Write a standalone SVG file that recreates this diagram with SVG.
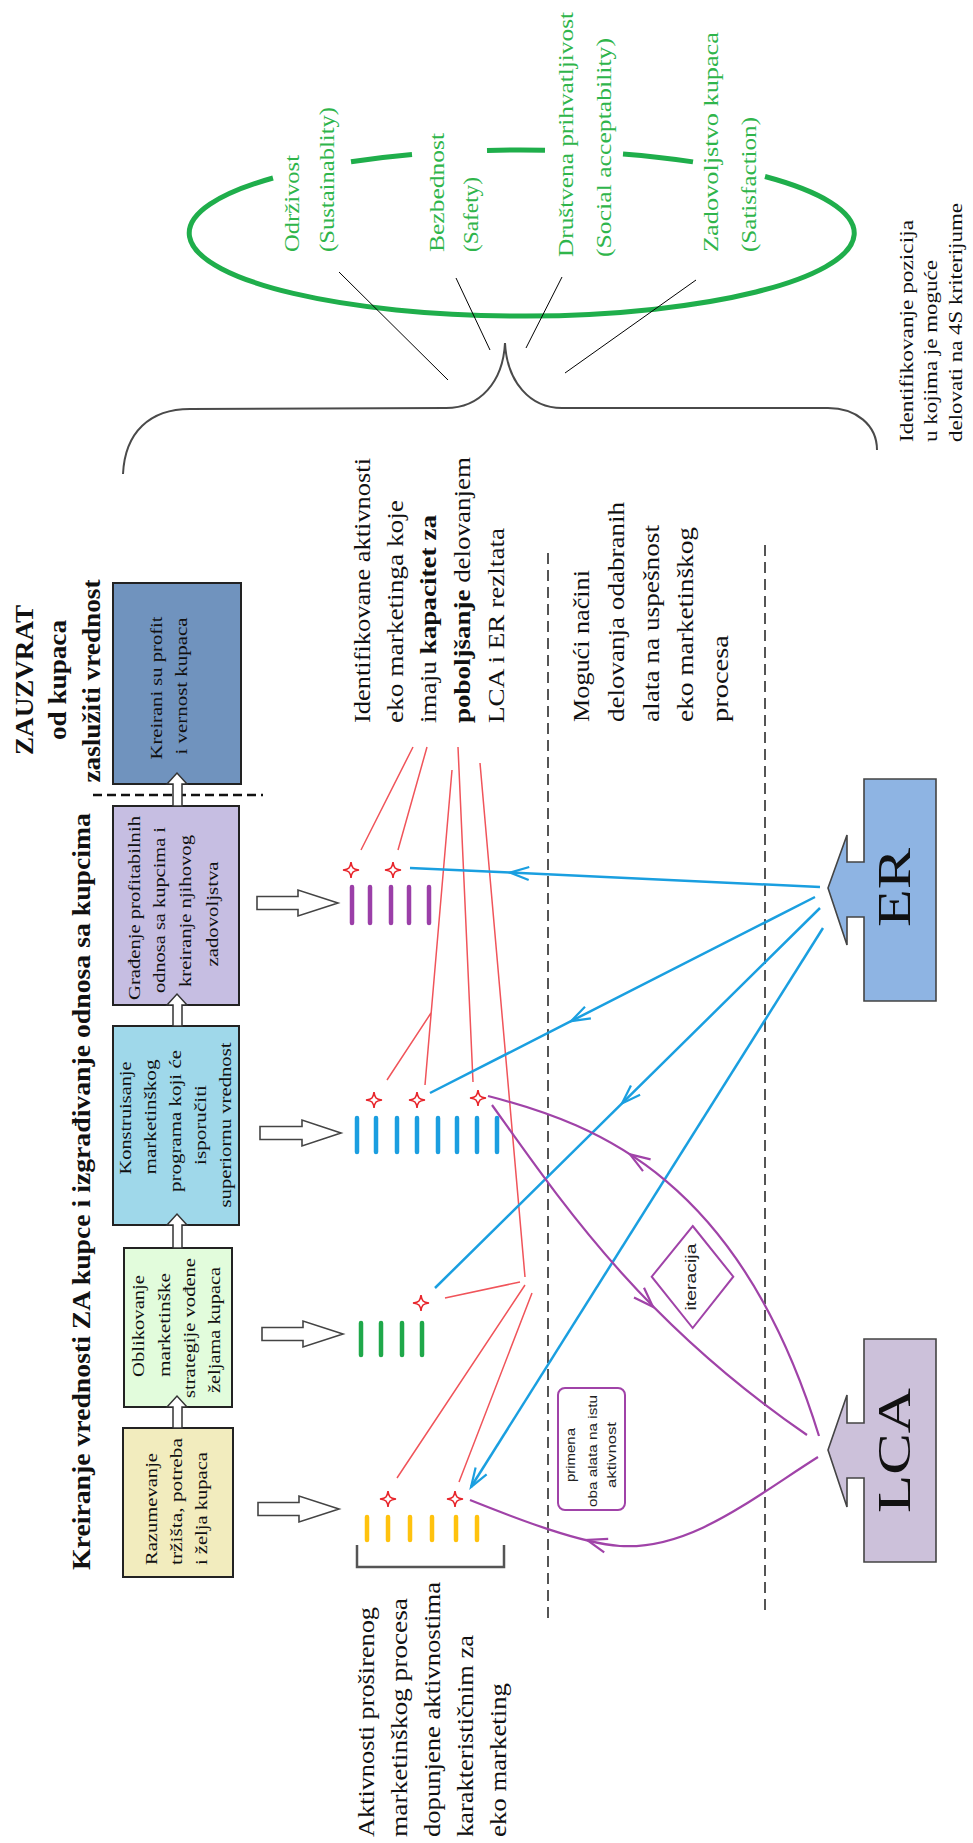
<svg xmlns="http://www.w3.org/2000/svg" width="973" height="1843" viewBox="0 0 973 1843">
<defs>
<style>
.s{font-family:"Liberation Serif","Times New Roman",serif;fill:#111}
.bx{font-size:16px}
.b{font-weight:bold}
.gt{font-size:22px;fill:#2fb54b}
.lb{font-size:24px}
.ss{font-family:"Liberation Sans",Arial,sans-serif;fill:#222}
.box{stroke:#222;stroke-width:2}
.red{stroke:#f0545a;stroke-width:1.5;fill:none}
.blu{stroke:#1a9fe0;stroke-width:2.5;fill:none}
.pur{stroke:#a043a8;stroke-width:2.2;fill:none}
.dash{stroke:#555;stroke-width:2;stroke-dasharray:11 6;fill:none}
.bar{stroke-width:4.5;stroke-linecap:round}
.conn{fill:#fff;stroke:#333;stroke-width:1.5}
.blk{fill:#fff;stroke:#444;stroke-width:1.6}
.ell{stroke:#1fae4b;stroke-width:5;fill:none}
.thin{stroke:#000;stroke-width:1;fill:none}
</style>
<path id="star" d="M0,-8 C0.8,-2 2,-0.8 8,0 C2,0.8 0.8,2 0,8 C-0.8,2 -2,0.8 -8,0 C-2,-0.8 -0.8,-2 0,-8Z" fill="#fff" stroke="#e8262c" stroke-width="1.6"/>
<marker id="ab" markerUnits="userSpaceOnUse" markerWidth="24" markerHeight="16" refX="20" refY="8" orient="auto" viewBox="0 0 24 16"><path d="M1,1.5 L20,8 L1,14.5" fill="none" stroke="#1a9fe0" stroke-width="2.2"/></marker>
</defs>
<rect width="973" height="1843" fill="#fff"/>

<!-- 4S ellipse -->
<g id="criteria">
<path class="ell" d="M273,178 A332.5,83 0 1 0 765,176.5"/>
<path class="ell" d="M351,161.8 A332.5,83 0 0 1 412,154.6 M487,150.4 A332.5,83 0 0 1 545,150.2 M623,154 A332.5,83 0 0 1 693,161.9"/>
<text class="s gt" transform="translate(299 252) rotate(-90)" textLength="97" lengthAdjust="spacingAndGlyphs">Održivost</text>
<text class="s gt" transform="translate(334 252) rotate(-90)" textLength="145" lengthAdjust="spacingAndGlyphs">(Sustainablity)</text>
<text class="s gt" transform="translate(444 252) rotate(-90)" textLength="119" lengthAdjust="spacingAndGlyphs">Bezbednost</text>
<text class="s gt" transform="translate(478 252) rotate(-90)" textLength="75" lengthAdjust="spacingAndGlyphs">(Safety)</text>
<text class="s gt" transform="translate(573 257) rotate(-90)" textLength="245" lengthAdjust="spacingAndGlyphs">Društvena prihvatljivost</text>
<text class="s gt" transform="translate(611 257) rotate(-90)" textLength="219" lengthAdjust="spacingAndGlyphs">(Social acceptability)</text>
<text class="s gt" transform="translate(718 252) rotate(-90)" textLength="220" lengthAdjust="spacingAndGlyphs">Zadovoljstvo kupaca</text>
<text class="s gt" transform="translate(756 252) rotate(-90)" textLength="135" lengthAdjust="spacingAndGlyphs">(Satisfaction)</text>
<path class="thin" d="M339,272 L448,380 M456,278 L490,350 M562,277 L526,348 M696,280 L565,373"/>
<path d="M123,474 C125,432 150,409 190,409 L446,408 C480,408 503,382 505,343 C507,382 530,408 562,408 L828,408 C856,408 877,425 877,450" fill="none" stroke="#4a4a4a" stroke-width="2"/>
<text class="s" font-size="18" transform="translate(913 442) rotate(-90)" textLength="222" lengthAdjust="spacingAndGlyphs">Identifikovanje pozicija</text>
<text class="s" font-size="18" transform="translate(937 442) rotate(-90)" textLength="182" lengthAdjust="spacingAndGlyphs">u kojima je moguće</text>
<text class="s" font-size="18" transform="translate(962 442) rotate(-90)" textLength="239" lengthAdjust="spacingAndGlyphs">delovati na 4S kriterijume</text>
</g>

<!-- headings -->
<g id="headings">
<text class="s b" font-size="25" transform="translate(90 1570) rotate(-90)" textLength="757" lengthAdjust="spacingAndGlyphs">Kreiranje vrednosti ZA kupce i izgrađivanje odnosa sa kupcima</text>
<text class="s b" font-size="26" text-anchor="middle" transform="translate(33 680) rotate(-90)" textLength="150" lengthAdjust="spacingAndGlyphs">ZAUZVRAT</text>
<text class="s b" font-size="26" text-anchor="middle" transform="translate(66 680) rotate(-90)" textLength="120" lengthAdjust="spacingAndGlyphs">od kupaca</text>
<text class="s b" font-size="26" text-anchor="middle" transform="translate(100 681) rotate(-90)" textLength="203" lengthAdjust="spacingAndGlyphs">zaslužiti vrednost</text>
<path d="M93,795 L263,795" stroke="#111" stroke-width="2.5" stroke-dasharray="9 5"/>
</g>

<!-- process boxes -->
<g id="box5">
<rect class="box" x="113" y="583" width="128" height="201" fill="#7093be"/>
<text class="s bx" text-anchor="middle" transform="translate(162 688) rotate(-90)" textLength="143" lengthAdjust="spacingAndGlyphs">Kreirani su profit</text>
<text class="s bx" text-anchor="middle" transform="translate(187 686) rotate(-90)" textLength="137" lengthAdjust="spacingAndGlyphs">i vernost kupaca</text>
</g>
<g id="box4">
<rect class="box" x="113" y="806" width="126" height="199" fill="#c6bee2"/>
<text class="s bx" text-anchor="middle" transform="translate(140 908) rotate(-90)" textLength="184" lengthAdjust="spacingAndGlyphs">Građenje profitabilnih</text>
<text class="s bx" text-anchor="middle" transform="translate(165 910) rotate(-90)" textLength="166" lengthAdjust="spacingAndGlyphs">odnosa sa kupcima i</text>
<text class="s bx" text-anchor="middle" transform="translate(191 911) rotate(-90)" textLength="152" lengthAdjust="spacingAndGlyphs">kreiranje njihovog</text>
<text class="s bx" text-anchor="middle" transform="translate(218 914) rotate(-90)" textLength="105" lengthAdjust="spacingAndGlyphs">zadovoljstva</text>
</g>
<g id="box3">
<rect class="box" x="113" y="1026" width="126" height="199" fill="#9fd8ea"/>
<text class="s bx" text-anchor="middle" transform="translate(131 1118) rotate(-90)" textLength="113" lengthAdjust="spacingAndGlyphs">Konstruisanje</text>
<text class="s bx" text-anchor="middle" transform="translate(156 1117) rotate(-90)" textLength="115" lengthAdjust="spacingAndGlyphs">marketinškog</text>
<text class="s bx" text-anchor="middle" transform="translate(181 1121) rotate(-90)" textLength="142" lengthAdjust="spacingAndGlyphs">programa koji će</text>
<text class="s bx" text-anchor="middle" transform="translate(206 1125) rotate(-90)" textLength="80" lengthAdjust="spacingAndGlyphs">isporučiti</text>
<text class="s bx" text-anchor="middle" transform="translate(231 1125) rotate(-90)" textLength="165" lengthAdjust="spacingAndGlyphs">superiornu vrednost</text>
</g>
<g id="box2">
<rect class="box" x="124" y="1248" width="108" height="159" fill="#e2fcdc"/>
<text class="s bx" text-anchor="middle" transform="translate(144 1326) rotate(-90)" textLength="102" lengthAdjust="spacingAndGlyphs">Oblikovanje</text>
<text class="s bx" text-anchor="middle" transform="translate(170 1325) rotate(-90)" textLength="104" lengthAdjust="spacingAndGlyphs">marketinške</text>
<text class="s bx" text-anchor="middle" transform="translate(195 1328) rotate(-90)" textLength="140" lengthAdjust="spacingAndGlyphs">strategije vođene</text>
<text class="s bx" text-anchor="middle" transform="translate(220 1330) rotate(-90)" textLength="126" lengthAdjust="spacingAndGlyphs">željama kupaca</text>
</g>
<g id="box1">
<rect class="box" x="123" y="1428" width="110" height="149" fill="#f2ecbe"/>
<text class="s bx" transform="translate(157 1565) rotate(-90)" textLength="112" lengthAdjust="spacingAndGlyphs">Razumevanje</text>
<text class="s bx" transform="translate(182 1565) rotate(-90)" textLength="127" lengthAdjust="spacingAndGlyphs">tržišta, potreba</text>
<text class="s bx" transform="translate(207 1565) rotate(-90)" textLength="113" lengthAdjust="spacingAndGlyphs">i želja kupaca</text>
</g>

<!-- tools -->
<g id="er">
<polygon points="864,779 936,779 936,1001 864,1001 864,917 847,917 847,945 828,888 847,835 847,862 864,862" fill="#8eb4e3" stroke="#444" stroke-width="1.6"/>
<text class="s" font-size="46" transform="translate(910 927) rotate(-90)" textLength="79" lengthAdjust="spacingAndGlyphs">ER</text>
</g>
<g id="lca">
<polygon points="864,1339 936,1339 936,1562 864,1562 864,1478 847,1478 847,1507 828,1450 847,1395 847,1423 864,1423" fill="#ccc1da" stroke="#444" stroke-width="1.6"/>
<text class="s" font-size="46" transform="translate(910 1513) rotate(-90)" textLength="125" lengthAdjust="spacingAndGlyphs">LCA</text>
</g>

<!-- labels -->
<g id="label-identified">
<text class="s lb" transform="translate(370 723) rotate(-90)" textLength="265" lengthAdjust="spacingAndGlyphs">Identifikovane aktivnosti</text>
<text class="s lb" transform="translate(403 723) rotate(-90)" textLength="223" lengthAdjust="spacingAndGlyphs">eko marketinga koje</text>
<text class="s lb" transform="translate(436 723) rotate(-90)" textLength="208" lengthAdjust="spacingAndGlyphs">imaju <tspan font-weight="bold">kapacitet za</tspan></text>
<text class="s lb" transform="translate(470 723) rotate(-90)" textLength="266" lengthAdjust="spacingAndGlyphs"><tspan font-weight="bold">poboljšanje</tspan> delovanjem</text>
<text class="s lb" transform="translate(504 723) rotate(-90)" textLength="195" lengthAdjust="spacingAndGlyphs">LCA i ER rezltata</text>
</g>
<g id="label-ways">
<text class="s lb" transform="translate(589 722) rotate(-90)" textLength="152" lengthAdjust="spacingAndGlyphs">Mogući načini</text>
<text class="s lb" transform="translate(624 722) rotate(-90)" textLength="220" lengthAdjust="spacingAndGlyphs">delovanja odabranih</text>
<text class="s lb" transform="translate(659 722) rotate(-90)" textLength="197" lengthAdjust="spacingAndGlyphs">alata na uspešnost</text>
<text class="s lb" transform="translate(693 722) rotate(-90)" textLength="195" lengthAdjust="spacingAndGlyphs">eko marketinškog</text>
<text class="s lb" transform="translate(728 722) rotate(-90)" textLength="87" lengthAdjust="spacingAndGlyphs">procesa</text>
</g>
<g id="label-activities">
<text class="s lb" transform="translate(374 1837) rotate(-90)" textLength="230" lengthAdjust="spacingAndGlyphs">Aktivnosti proširenog</text>
<text class="s lb" transform="translate(407 1837) rotate(-90)" textLength="239" lengthAdjust="spacingAndGlyphs">marketinškog procesa</text>
<text class="s lb" transform="translate(440 1837) rotate(-90)" textLength="255" lengthAdjust="spacingAndGlyphs">dopunjene aktivnostima</text>
<text class="s lb" transform="translate(473 1837) rotate(-90)" textLength="202" lengthAdjust="spacingAndGlyphs">karakterističnim za</text>
<text class="s lb" transform="translate(506 1837) rotate(-90)" textLength="154" lengthAdjust="spacingAndGlyphs">eko marketing</text>
<path d="M357,1545 L357,1567 L504,1567 L504,1545" fill="none" stroke="#555" stroke-width="2.5"/>
</g>

<g id="dividers">
<path class="dash" d="M548,553 L548,1618"/>
<path class="dash" d="M765,545 L765,1610"/>
</g>

<g id="iteration">
<polygon points="692.7,1226 733.3,1276.7 692.7,1328 651.7,1276.7" fill="#fff" stroke="#a043a8" stroke-width="2"/>
<text class="ss" font-size="14" text-anchor="middle" transform="translate(696 1277) rotate(-90)" textLength="67" lengthAdjust="spacingAndGlyphs">iteracija</text>
</g>
<g id="note">
<rect x="558" y="1388" width="67" height="122" rx="7" fill="#fff" stroke="#a043a8" stroke-width="2"/>
<text class="ss" font-size="13" text-anchor="middle" transform="translate(575 1455) rotate(-90)" textLength="54" lengthAdjust="spacingAndGlyphs">primena</text>
<text class="ss" font-size="13" text-anchor="middle" transform="translate(597 1451) rotate(-90)" textLength="112" lengthAdjust="spacingAndGlyphs">oba alata na istu</text>
<text class="ss" font-size="13" text-anchor="middle" transform="translate(616 1455) rotate(-90)" textLength="66" lengthAdjust="spacingAndGlyphs">aktivnost</text>
</g>

<!-- connectors -->
<g id="connectors">
<polygon class="conn" points="173,806 173,784 167,784 177,773 187,784 182,784 182,806"/>
<polygon class="conn" points="173,1026 173,1005 167,1005 177,994 187,1005 182,1005 182,1026"/>
<polygon class="conn" points="173,1248 173,1225 167,1225 177,1214 187,1225 182,1225 182,1248"/>
<polygon class="conn" points="173,1428 173,1407 167,1407 177,1396 187,1407 182,1407 182,1428"/>
<polygon class="blk" points="257,896.5 298,896.5 298,890 338,903 298,916 298,909.5 257,909.5"/>
<polygon class="blk" points="260,1126.5 302,1126.5 302,1120 341,1133 302,1146 302,1139.5 260,1139.5"/>
<polygon class="blk" points="262,1327.5 303,1327.5 303,1321 343,1334 303,1347 303,1340.5 262,1340.5"/>
<polygon class="blk" points="258,1502.5 299,1502.5 299,1496 339,1509 299,1522 299,1515.5 258,1515.5"/>

<path class="red" d="M413,747 L361,850 M427,747 L398,850 M458,747 L473,1082 M452,770 L425,1085 M431,1013 L387,1080 M480,763 L525,1277 M520,1282 L445,1298 M525,1285 L397,1478 M532,1293 L459,1482"/>

<path class="blu" d="M820,887 L510,872.6 L410,868" marker-mid="url(#ab)"/>
<path class="blu" d="M815,897 L571,1021.2 L430,1093" marker-mid="url(#ab)"/>
<path class="blu" d="M820,908 L622,1103.4 L435,1288" marker-mid="url(#ab)"/>
<path class="blu" d="M823,928 L471,1487" marker-end="url(#ab)"/>

<path class="pur" d="M818,1457 C750,1500 690,1550 620,1546 C580,1543 520,1520 470,1500"/>
<polyline class="pur" points="608.2,1538.9 587,1540 604.2,1552.3"/>
<path class="pur" d="M492,1105 C560,1200 640,1320 807,1435"/>
<polyline class="pur" points="644,1287.7 653,1306.8 634,1297.5"/>
<path class="pur" d="M488,1096 C600,1125 740,1180 819,1436"/>
<polyline class="pur" points="650.6,1159.4 630,1154.4 643,1171.2"/>
</g>

<!-- activity marks -->
<g id="marks-purple" stroke="#9b3fa8" class="bar">
<path class="bar" d="M352,887V923 M370,887V923 M391,887V923 M409,887V923 M429,887V923"/>
</g>
<g id="marks-blue" stroke="#1b9ee0">
<path class="bar" d="M357,1118V1152 M376,1118V1152 M397,1118V1152 M417,1118V1152 M438,1118V1152 M457,1118V1152 M477,1118V1152 M497,1118V1152"/>
</g>
<g id="marks-green" stroke="#1fa84a">
<path class="bar" d="M361,1323V1355 M381,1323V1355 M402,1323V1355 M422,1323V1355"/>
</g>
<g id="marks-yellow" stroke="#ffc20e">
<path class="bar" d="M367,1517V1540 M388,1517V1540 M410,1517V1540 M432,1517V1540 M456,1517V1540 M477,1517V1540"/>
</g>
<g id="stars">
<use href="#star" x="351" y="870"/>
<use href="#star" x="393" y="870"/>
<use href="#star" x="374" y="1100"/>
<use href="#star" x="417" y="1100"/>
<use href="#star" x="478" y="1098"/>
<use href="#star" x="421" y="1303"/>
<use href="#star" x="388" y="1499"/>
<use href="#star" x="455" y="1499"/>
</g>
</svg>
